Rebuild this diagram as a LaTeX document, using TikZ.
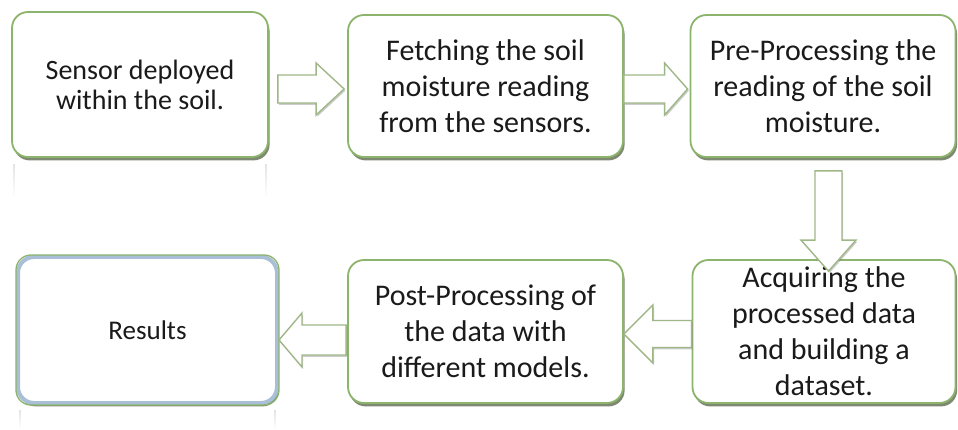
\documentclass[tikz,border=0pt]{standalone}
\usepackage{fontspec}
\setmainfont{Carlito}
\usetikzlibrary{calc,shadows,fadings}
\definecolor{boxgreen}{HTML}{8DB46C}
\definecolor{boxshadow}{HTML}{6F7D62}
\definecolor{arrowgreen}{HTML}{9FB786}
\definecolor{resblue}{HTML}{A9BFD8}
\definecolor{txt}{HTML}{1A1A1A}
\tikzset{
  stepbox/.style={draw=boxgreen, line width=1.8pt, rounded corners=16pt, fill=white,
    drop shadow={shadow xshift=1.6pt, shadow yshift=-3.4pt, fill=boxshadow, opacity=0.9},
    align=center, inner sep=0pt, text=txt},
  bigtext/.style={font=\fontsize{30}{36}\selectfont},
  midtext/.style={font=\fontsize{28}{30}\selectfont},
  barrow/.style={draw=arrowgreen, line width=1.4pt, fill=white, line join=miter,
    drop shadow={shadow xshift=1.2pt, shadow yshift=-1.8pt, fill=gray, opacity=0.4}},
  refl/.style={line width=1.5pt, draw=gray!22, path fading=south},
}
\begin{document}
\begin{tikzpicture}[x=1pt,y=1pt]
\useasboundingbox (0,0) rectangle (958,-430);
\fill[white] (0,0) rectangle (958,-430);

% reflections
\draw[refl] (14,-164) -- (14,-196);
\draw[refl] (266,-164) -- (266,-196);
\draw[refl] (20,-410) -- (20,-428);
\draw[refl] (275,-410) -- (275,-428);

\node[stepbox, midtext, minimum width=256pt, minimum height=145pt] (b1) at (140,-84.5)
  {Sensor deployed\\within the soil.};
\node[stepbox, bigtext, minimum width=275pt, minimum height=142pt] (b2) at (485.5,-86)
  {Fetching the soil\\moisture reading\\from the sensors.};
\node[stepbox, bigtext, minimum width=265pt, minimum height=142pt] (b3) at (823,-86)
  {Pre-Processing the\\reading of the soil\\moisture.};
\node[stepbox, bigtext, minimum width=263pt, minimum height=143pt] (b4) at (824,-331.5)
  {Acquiring the\\processed data\\and building a\\dataset.};
\node[stepbox, bigtext, minimum width=275pt, minimum height=143pt] (b5) at (485.5,-331.5)
  {Post-Processing of\\the data with\\different models.};
\node[stepbox, draw=resblue, line width=4pt,
  minimum width=259pt, minimum height=146pt] (b6) at (147.5,-330) {};
\draw[boxgreen, line width=1.3pt, rounded corners=15pt]
  (b6.south west) rectangle (b6.north east);
\node[text=txt, font=\fontsize{27}{30}\selectfont] (r) at (b6.center) {Results};

% arrows
\draw[barrow] let \p1=($(b1.east)+(9,-4.5)$), \p2=($(b2.west)+(-3,-3)$) in
  (\x1,\y1+14) -- (\x2-28,\y1+14) -- (\x2-28,\y1+26) -- (\x2,\y1) -- (\x2-28,\y1-26)
  -- (\x2-28,\y1-14) -- (\x1,\y1-14) -- cycle;
\draw[barrow] let \p1=($(b2.east)+(0,-3)$), \p2=($(b3.west)+(-2,-3)$) in
  (\x1,\y1+14) -- (\x2-23,\y1+14) -- (\x2-23,\y1+26) -- (\x2,\y1) -- (\x2-23,\y1-26)
  -- (\x2-23,\y1-14) -- (\x1,\y1-14) -- cycle;
\draw[barrow] let \p1=($(b3.south)+(5.5,-13)$), \p2=($(b4.north)+(5.5,-12)$) in
  (\x1-13.5,\y1) -- (\x1-13.5,\y2+31) -- (\x1-27.5,\y2+31) -- (\x1,\y2) -- (\x1+27.5,\y2+31)
  -- (\x1+13.5,\y2+31) -- (\x1+13.5,\y1) -- cycle;
\draw[barrow] let \p1=($(b4.west)+(0,-2.5)$), \p2=($(b5.east)+(0,-2.5)$) in
  (\x1,\y1+13.5) -- (\x2+29,\y1+13.5) -- (\x2+29,\y1+29) -- (\x2,\y1) -- (\x2+29,\y1-29)
  -- (\x2+29,\y1-13.5) -- (\x1,\y1-13.5) -- cycle;
\draw[barrow] let \p1=($(b5.west)+(-1,-8.5)$), \p2=($(b6.east)+(0,-10)$) in
  (\x1,\y1+15) -- (\x2+23,\y1+15) -- (\x2+23,\y1+27) -- (\x2,\y1) -- (\x2+23,\y1-27)
  -- (\x2+23,\y1-15) -- (\x1,\y1-15) -- cycle;
\end{tikzpicture}
\end{document}
